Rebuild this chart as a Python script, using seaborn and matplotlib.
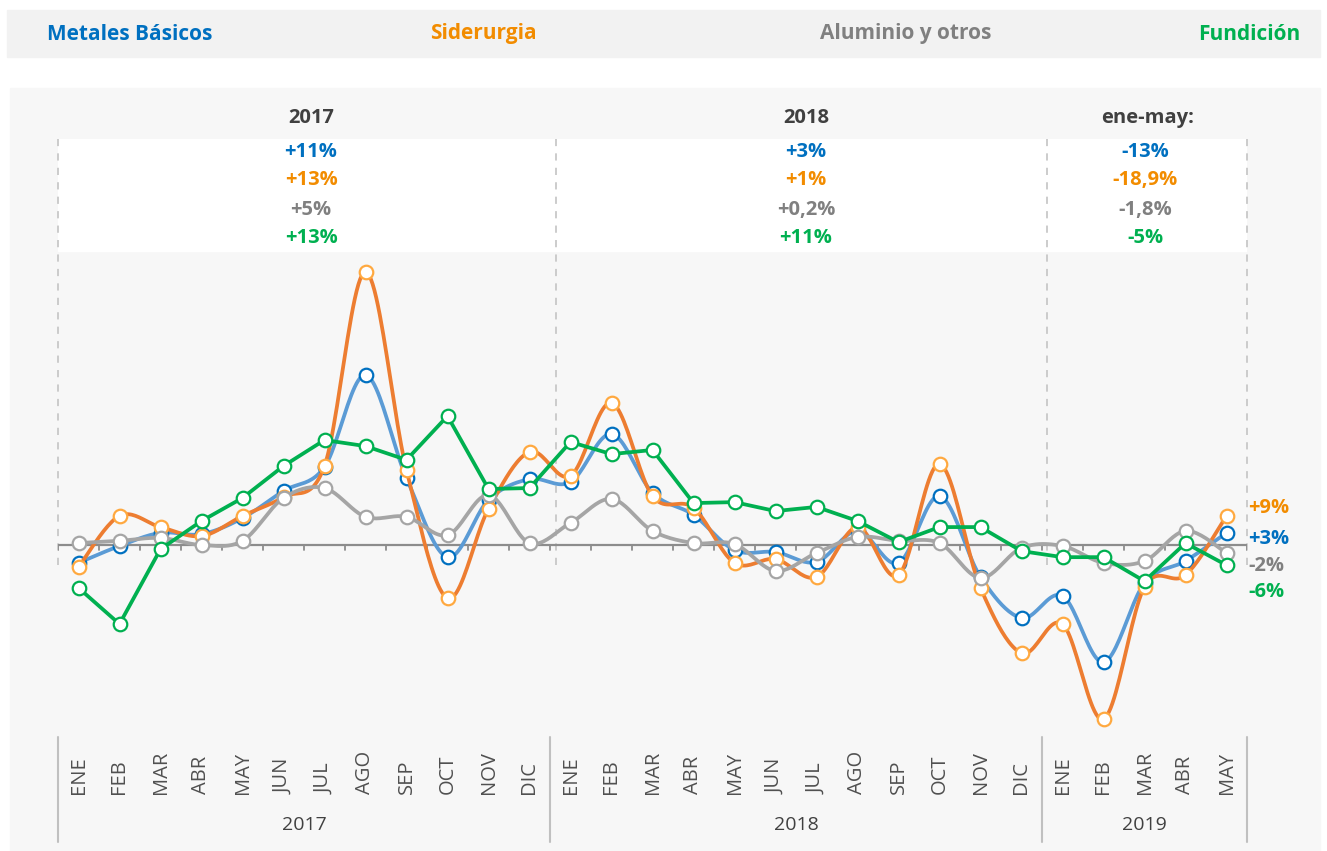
import numpy as np
import matplotlib.pyplot as plt
import matplotlib.patches as mpatches
import seaborn as sns

# Datos (variación interanual, %)
meses = ['ENE', 'FEB', 'MAR', 'ABR', 'MAY', 'JUN', 'JUL', 'AGO', 'SEP', 'OCT', 'NOV', 'DIC']
etiquetas = meses + meses + meses[:5]
anios = ['2017', '2018', '2019']

metales = [-5.6, -0.3, 3.8, 3.4, 8.4, 16.9, 24.4, 53.1, 20.9, -3.8, 14.1, 20.6,
           19.7, 34.7, 16.3, 9.4, -1.6, -2.2, -5.3, 4.4, -5.6, 15.3, -10.0, -22.8,
           -15.9, -36.6, -11.9, -5.0, 3.8]
siderurgia = [-6.9, 9.1, 5.6, 2.8, 9.1, 15.0, 24.7, 85.3, 23.4, -16.6, 11.3, 29.1,
              21.6, 44.4, 15.3, 11.6, -5.6, -4.4, -10.0, 5.6, -9.4, 25.3, -13.4, -33.8,
              -24.7, -54.4, -13.1, -9.4, 9.1]
aluminio = [0.6, 1.3, 2.2, 0.0, 1.3, 14.7, 17.8, 8.8, 8.8, 3.1, 15.6, 0.6,
            6.9, 14.4, 4.4, 0.6, 0.3, -8.1, -2.5, 2.5, 1.3, 0.6, -10.3, -0.9,
            -0.3, -5.6, -5.0, 4.4, -2.5]
fundicion = [-13.4, -24.7, -1.3, 7.5, 14.7, 24.7, 32.8, 30.9, 26.6, 40.3, 17.5, 17.8,
             32.2, 28.4, 29.7, 13.1, 13.4, 10.6, 11.9, 7.5, 0.9, 5.6, 5.6, -1.9,
             -3.8, -3.8, -11.3, 0.6, -6.3]

series = ['Metales Básicos', 'Siderurgia', 'Aluminio y otros', 'Fundición']
periodos = ['2017', '2018', 'ene-may:']
resumen = {
    'Metales Básicos': ['+11%', '+3%', '-13%'],
    'Siderurgia': ['+13%', '+1%', '-18,9%'],
    'Aluminio y otros': ['+5%', '+0,2%', '-1,8%'],
    'Fundición': ['+13%', '+11%', '-5%'],
}
ultimo = {'Metales Básicos': '+3%', 'Siderurgia': '+9%', 'Aluminio y otros': '-2%', 'Fundición': '-6%'}

col_texto = {'Metales Básicos': '#0070c0', 'Siderurgia': '#f28c00',
             'Aluminio y otros': '#808080', 'Fundición': '#00b050'}
col_linea = {'Metales Básicos': '#5b9bd5', 'Siderurgia': '#ed7d31',
             'Aluminio y otros': '#a5a5a5', 'Fundición': '#00b050'}
col_borde = {'Metales Básicos': '#0070c0', 'Siderurgia': '#ffa940',
             'Aluminio y otros': '#a5a5a5', 'Fundición': '#00b050'}


def suavizar(y, n=24):
    # curva suavizada tipo Excel (Bezier / Catmull-Rom)
    y = np.asarray(y, float)
    P = np.column_stack([np.arange(len(y), dtype=float), y])
    Pm = np.vstack([P[0], P, P[-1]])
    t = np.linspace(0, 1, n)[:, None]
    out = []
    for i in range(len(y) - 1):
        p0, p1, p2, p3 = Pm[i], Pm[i + 1], Pm[i + 2], Pm[i + 3]
        c1 = p1 + (p2 - p0) / 6
        c2 = p2 - (p3 - p1) / 6
        seg = (1 - t) ** 3 * p1 + 3 * (1 - t) ** 2 * t * c1 + 3 * (1 - t) * t ** 2 * c2 + t ** 3 * p2
        out.append(seg if i == 0 else seg[1:])
    out = np.vstack(out)
    return out[:, 0], out[:, 1]


sns.set_style('white')
plt.rcParams['font.family'] = ['Open Sans', 'DejaVu Sans']

W, H = 1327, 851
fig = plt.figure(figsize=(W / 100, H / 100), dpi=100, facecolor='white')


def px(x, y):
    return x / W, 1 - y / H


# fondos
fig.patches.append(mpatches.Rectangle(px(7, 57), 1313 / W, 47 / H, transform=fig.transFigure,
                                      color='#f2f2f2', zorder=-10))
fig.patches.append(mpatches.Rectangle(px(10, 851), 1310 / W, 763 / H, transform=fig.transFigure,
                                      color='#f7f7f7', zorder=-10))

# leyenda superior
for nombre, xc in zip(series, [130, 483, 906, 1249]):
    fig.text(*px(xc, 34), nombre, ha='center', va='center', fontsize=15,
             fontweight='bold', color=col_texto[nombre])

# ejes: x de -0.5 a 28.5 ocupa 58..1247 px, cero en y=545 px, 3.2 px por unidad
y_top, y_bot = 139, 735
ax = fig.add_axes([58 / W, 1 - y_bot / H, 1189 / W, (y_bot - y_top) / H])
ax.set_zorder(1)
ax.set_facecolor('none')
ax.set_xlim(-0.5, 28.5)
ax.set_ylim((545 - y_bot) / 3.2, (545 - y_top) / 3.2)
for s in ax.spines.values():
    s.set_visible(False)
ax.set_xticks([])
ax.set_yticks([])

# banda blanca con los resúmenes
ax.axhspan((545 - 251) / 3.2, (545 - y_top) / 3.2, color='white', zorder=0)
for xd in [-0.5, 11.65, 23.62, 28.5]:
    ax.plot([xd, xd], [-6.25, (545 - y_top) / 3.2], color='#c8c8c8', lw=1.3,
            dashes=(4, 4), zorder=1, clip_on=False)

# eje cero y marcas
ax.axhline(0, color='#8c8c8c', lw=1.6, zorder=2)
for k in range(30):
    ax.plot([k - 0.5, k - 0.5], [0, -1.7], color='#8c8c8c', lw=1.3, zorder=2)

x = np.arange(len(etiquetas))
datos = {'Metales Básicos': metales, 'Siderurgia': siderurgia,
         'Aluminio y otros': aluminio, 'Fundición': fundicion}
for i, nombre in enumerate(series):
    vals = datos[nombre]
    if nombre == 'Fundición':
        xs, ys = x, np.asarray(vals, float)
    else:
        xs, ys = suavizar(vals)
    sns.lineplot(x=xs, y=ys, ax=ax, color=col_linea[nombre], lw=2.7, sort=False,
                 estimator=None, zorder=3 + 2 * i)
    sns.scatterplot(x=x, y=vals, ax=ax, s=95, color='white', edgecolor=col_borde[nombre],
                    linewidth=1.6, zorder=4 + 2 * i)

# etiquetas finales
for nombre, yp in zip(['Siderurgia', 'Metales Básicos', 'Aluminio y otros', 'Fundición'],
                      [508, 539, 566, 592]):
    fig.text(*px(1248, yp), ultimo[nombre], ha='left', va='center', fontsize=14.5,
             fontweight='bold', color=col_texto[nombre])

# cabecera de periodos
for per, xc in zip(periodos, [311, 806, 1148]):
    fig.text(*px(xc, 118), per, ha='center', va='center', fontsize=14.5,
             fontweight='bold', color='#404040')
for j, xc in enumerate([311, 806, 1145]):
    for nombre, yp in zip(series, [152, 180, 210, 238]):
        fig.text(*px(xc, yp), resumen[nombre][j], ha='center', va='center', fontsize=14.5,
                 fontweight='bold', color=col_texto[nombre])

# etiquetas de meses y años
for i, lab in enumerate(etiquetas):
    ax.text(i, (y_bot - 794) / (y_bot - y_top), lab, transform=ax.get_xaxis_transform(),
            rotation=90, ha='center', va='bottom', fontsize=14.5, color='#505050')
for xd in [-0.5, 11.5, 23.5, 28.5]:
    ax.plot([xd, xd], [(y_bot - 737) / (y_bot - y_top), (y_bot - 842) / (y_bot - y_top)],
            transform=ax.get_xaxis_transform(), color='#c0c0c0', lw=1.5, clip_on=False)
for anio, xc in zip(anios, [5.5, 17.5, 26]):
    ax.text(xc, (y_bot - 825) / (y_bot - y_top), anio, transform=ax.get_xaxis_transform(),
            ha='center', va='center', fontsize=14, color='#404040')

fig.savefig('out.png', dpi=100, facecolor='white')
